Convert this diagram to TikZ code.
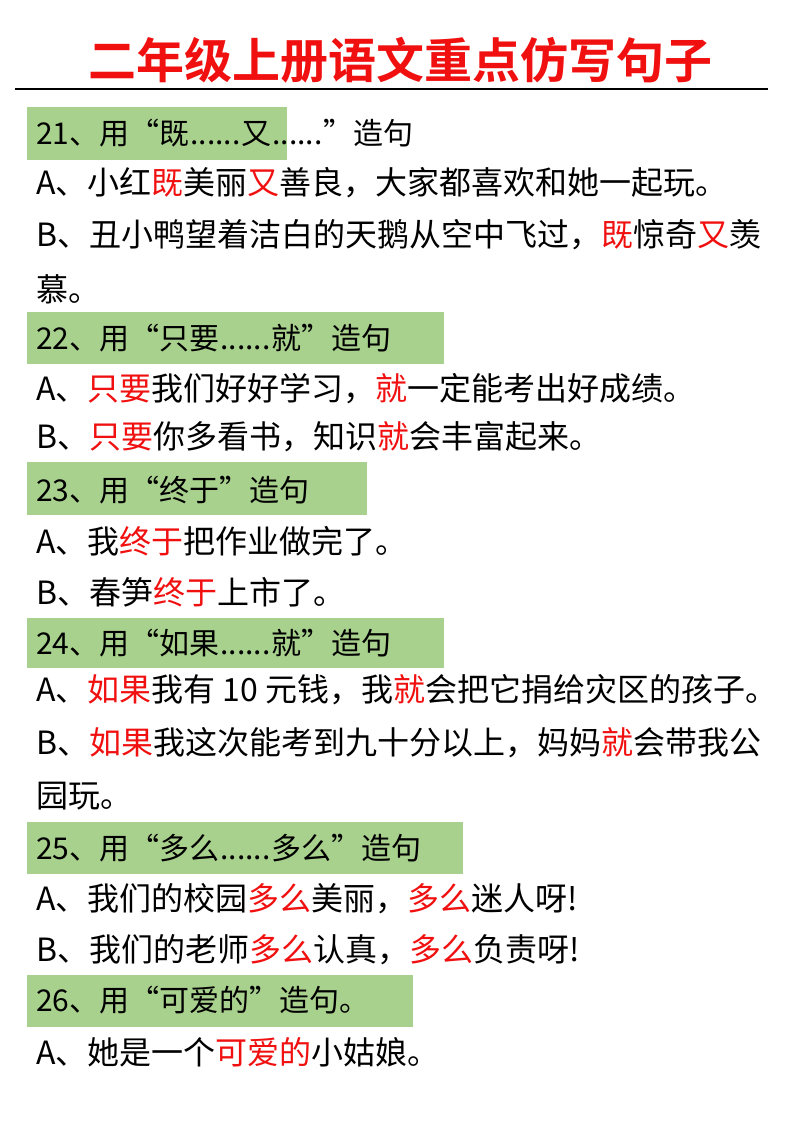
\documentclass[tikz,border=0pt]{standalone}
\usepackage{fontspec}
\setmainfont{Noto Sans CJK SC}
\newfontfamily\cjk{Noto Sans CJK SC}
\newfontfamily\cjkb{Noto Sans CJK SC Bold}
\definecolor{band}{HTML}{A9D18E}
\definecolor{hl}{HTML}{F01010}
\newcommand{\R}[1]{\textcolor{hl}{#1}}
\newcommand{\dd}{\kern1pt......\kern1pt}
\tikzset{
  band/.style={fill=band,draw=none},
  line/.style={anchor=west,inner sep=0pt,font=\fontsize{32}{36}\selectfont},
  head/.style={anchor=west,inner sep=0pt,font=\fontsize{30}{34}\selectfont},
}
\begin{document}
\begin{tikzpicture}[x=1pt,y=-1pt]
\useasboundingbox (0,0) rectangle (800,1132);
\node[inner sep=0pt,text=hl,font=\cjkb\fontsize{48}{54}\selectfont] (title) at (400,60) {二年级上册语文重点仿写句子};
\coordinate (l1) at (15,89); \coordinate (l2) at (768,89);
\draw[line width=2pt] (l1) -- (l2);
% bands
\fill[band] (27,107) rectangle (287,160);
\fill[band] (27,312) rectangle (444,364);
\fill[band] (27,462) rectangle (367,515);
\fill[band] (27,618) rectangle (444,668);
\fill[band] (27,822) rectangle (463,874);
\fill[band] (27,975) rectangle (413,1027);
% 21
\node[head] (h21) at (36,133) {21、用“既\dd 又\dd”造句};
\node[line] (a21) at (36,183) {A、小红\R{既}美丽\R{又}善良，大家都喜欢和她一起玩。};
\node[line] (b21) at (36,235) {B、丑小鸭望着洁白的天鹅从空中飞过，\R{既}惊奇\R{又}羡};
\node[line] (c21) at (36,289) {慕。};
% 22
\node[head] (h22) at (36,338) {22、用“只要\dd 就”造句};
\node[line] (a22) at (36,389) {A、\R{只要}我们好好学习，\R{就}一定能考出好成绩。};
\node[line] (b22) at (36,437) {B、\R{只要}你多看书，知识\R{就}会丰富起来。};
% 23
\node[head] (h23) at (36,490) {23、用“终于”造句};
\node[line] (a23) at (36,541) {A、我\R{终于}把作业做完了。};
\node[line] (b23) at (36,592) {B、春笋\R{终于}上市了。};
% 24
\node[head] (h24) at (36,643) {24、用“如果\dd 就”造句};
\node[line] (a24) at (36,690) {A、\R{如果}我有 10 元钱，我\R{就}会把它捐给灾区的孩子。};
\node[line] (b24) at (36,743) {B、\R{如果}我这次能考到九十分以上，妈妈\R{就}会带我公};
\node[line] (c24) at (36,796) {园玩。};
% 25
\node[head] (h25) at (36,848) {25、用“多么\dd 多么”造句};
\node[line] (a25) at (36,899) {A、我们的校园\R{多么}美丽，\R{多么}迷人呀!};
\node[line] (b25) at (36,950) {B、我们的老师\R{多么}认真，\R{多么}负责呀!};
% 26
\node[head] (h26) at (36,1000) {26、用“可爱的”造句。};
\node[line] (a26) at (36,1052) {A、她是一个\R{可爱的}小姑娘。};
\end{tikzpicture}
\end{document}
